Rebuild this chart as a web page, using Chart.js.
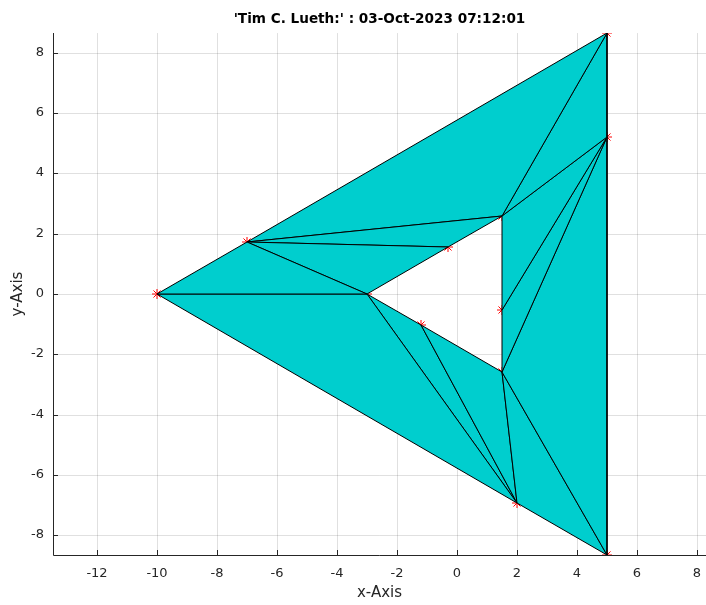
<!DOCTYPE html>
<html>
<head>
<meta charset="utf-8">
<script src="https://cdn.jsdelivr.net/npm/chart.js@4.4.0/dist/chart.umd.min.js"></script>
<style>
  html, body { margin: 0; padding: 0; background: #fff; }
  #wrap { width: 706px; height: 605px; }
</style>
</head>
<body>
<div id="wrap"><canvas id="meshChart" width="706" height="605"></canvas></div>
<script>
// vertices A..L of the triangulated shape
const vertexX = [-10, 5, 5, -3, 1.5, 1.5, -7, -0.3, -1.2, 1.5, 5, 2];
const vertexY = [0, 8.66, -8.66, 0, 2.598, -2.598, 1.732, 1.559, -1.039, -0.52, 5.196, -6.928];

// triangles, as indices into the vertex arrays
const triangles = [
    [0, 6, 3], [0, 3, 11], [6, 3, 7], [6, 7, 4],
    [6, 4, 1], [4, 1, 10], [4, 10, 9], [9, 10, 5],
    [5, 10, 2], [5, 2, 11], [5, 11, 8], [8, 11, 3]
];

const xTicks = [-12, -10, -8, -6, -4, -2, 0, 2, 4, 6, 8];
const yTicks = [-8, -6, -4, -2, 0, 2, 4, 6, 8];

const axisColor = '#262626';
const fontFamily = '"DejaVu Sans", Verdana, sans-serif';

const vertexPoints = vertexX.map((x, i) => ({ x: x, y: vertexY[i] }));

// one closed, filled line per triangle
const triangleSets = triangles.map(tri => ({
    type: 'scatter',
    data: [...tri, tri[0]].map(i => vertexPoints[i]),
    showLine: true,
    fill: 'shape',
    backgroundColor: 'rgb(0, 206, 206)',
    borderColor: '#000',
    borderWidth: 1,
    pointRadius: 0,
    tension: 0,
    order: 1
}));

// red star markers, drawn under the patch
const markerSet = {
    type: 'scatter',
    data: vertexPoints,
    pointStyle: 'star',
    pointRadius: 5,
    borderColor: '#ff0000',
    backgroundColor: '#ff0000',
    pointBorderWidth: 1,
    order: 2
};

// inward tick marks and the two axis lines, on top of the data
const axisPlugin = {
    id: 'axisPlugin',
    afterDatasetsDraw(chart) {
        const { ctx, chartArea, scales: { x, y } } = chart;
        ctx.save();
        ctx.strokeStyle = axisColor;
        ctx.lineWidth = 1;
        ctx.beginPath();
        xTicks.forEach(v => {
            const px = Math.round(x.getPixelForValue(v)) + 0.5;
            ctx.moveTo(px, chartArea.bottom);
            ctx.lineTo(px, chartArea.bottom - 5);
        });
        yTicks.forEach(v => {
            const py = Math.round(y.getPixelForValue(v)) + 0.5;
            ctx.moveTo(chartArea.left, py);
            ctx.lineTo(chartArea.left + 5, py);
        });
        const l = Math.round(chartArea.left) + 0.5;
        const b = Math.round(chartArea.bottom) + 0.5;
        ctx.moveTo(l, chartArea.top);
        ctx.lineTo(l, b);
        ctx.lineTo(chartArea.right, b);
        ctx.stroke();
        ctx.restore();
    }
};

new Chart(document.getElementById('meshChart').getContext('2d'), {
    type: 'scatter',
    data: { datasets: [...triangleSets, markerSet] },
    options: {
        responsive: false,
        animation: false,
        events: [],
        layout: { padding: 0, autoPadding: false },
        plugins: {
            legend: { display: false },
            tooltip: { enabled: false },
            title: {
                display: true,
                fullSize: false,
                text: "'Tim C. Lueth:' : 03-Oct-2023 07:12:01",
                color: '#000',
                font: { family: fontFamily, size: 13.6, weight: 'bold' },
                padding: { top: 11.3, bottom: 5.4 }
            }
        },
        scales: {
            x: {
                type: 'linear',
                min: -13.47,
                max: 8.3,
                alignToPixels: true,
                afterBuildTicks: scale => { scale.ticks = xTicks.map(v => ({ value: v })); },
                afterFit: scale => {
                    scale.height = 50;
                    scale.paddingLeft = 0;
                    scale.paddingRight = 0;
                },
                ticks: {
                    includeBounds: false,
                    padding: 11,
                    color: axisColor,
                    font: { family: fontFamily, size: 13 }
                },
                grid: { color: 'rgba(0,0,0,0.12)', drawTicks: false },
                border: { display: false },
                title: {
                    display: true,
                    text: 'x-Axis',
                    color: axisColor,
                    font: { family: fontFamily, size: 15 },
                    padding: { top: 0, bottom: 3 }
                }
            },
            y: {
                type: 'linear',
                min: -8.66,
                max: 8.66,
                alignToPixels: true,
                afterBuildTicks: scale => { scale.ticks = yTicks.map(v => ({ value: v })); },
                afterFit: scale => {
                    scale.width = 53;
                    scale.paddingTop = 0;
                    scale.paddingBottom = 0;
                },
                ticks: {
                    includeBounds: false,
                    padding: 9,
                    color: axisColor,
                    font: { family: fontFamily, size: 13 }
                },
                grid: { color: 'rgba(0,0,0,0.12)', drawTicks: false },
                border: { display: false },
                title: {
                    display: true,
                    text: 'y-Axis',
                    color: axisColor,
                    font: { family: fontFamily, size: 15 },
                    padding: { top: 9, bottom: 0 }
                }
            }
        }
    },
    plugins: [axisPlugin]
});
</script>
</body>
</html>
